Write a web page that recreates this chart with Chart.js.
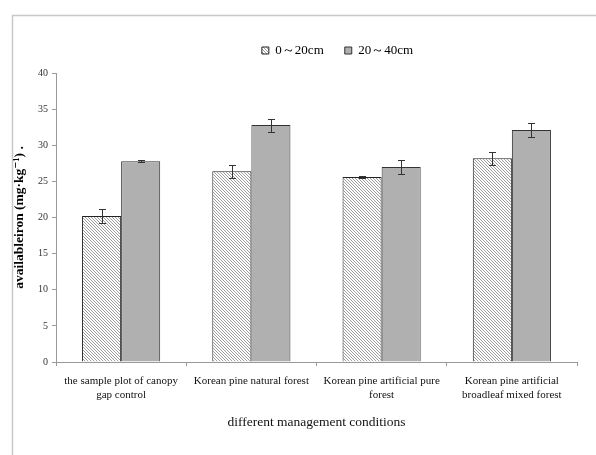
<!DOCTYPE html>
<html>
<head>
<meta charset="utf-8">
<script src="https://cdn.jsdelivr.net/npm/chart.js@4/dist/chart.umd.min.js"></script>
<style>
  html, body { margin: 0; padding: 0; background: #fff; }
  canvas { display: block; }
</style>
</head>
<body>
<canvas id="chart" width="596" height="455"></canvas>
<script>
// Available iron by management condition and soil depth
const categories = [
  ['the sample plot of canopy', 'gap control'],
  'Korean pine natural forest',
  ['Korean pine artificial pure', 'forest'],
  ['Korean pine artificial', 'broadleaf mixed forest']
];
const seriesNames = ['0～20cm', '20～40cm'];
const shallowValues = [20.2, 26.4, 25.6, 28.2];
const shallowErrors = [1.0, 0.9, 0.1, 0.9];
const deepValues = [27.8, 32.8, 27.0, 32.1];
const deepErrors = [0.1, 0.9, 1.0, 1.0];
const yTicks = [0, 5, 10, 15, 20, 25, 30, 35, 40];

const canvas = document.getElementById('chart');
const ctx = canvas.getContext('2d');

// Fine diagonal hatch fill for the 0-20cm bars
function makeHatch() {
  const tile = document.createElement('canvas');
  tile.width = 3; tile.height = 3;
  const g = tile.getContext('2d');
  g.fillStyle = '#ffffff';
  g.fillRect(0, 0, 3, 3);
  g.fillStyle = '#9c9c9c';
  for (let i = 0; i < 3; i++) g.fillRect(i, i, 1, 1);
  return ctx.createPattern(tile, 'repeat');
}
const hatch = makeHatch();

const serif = '"Liberation Serif", "Times New Roman", "DejaVu Serif", serif';

// Outer frame lines (top and left)
const framePlugin = {
  id: 'frame',
  beforeDraw(chart) {
    const c = chart.ctx;
    c.save();
    c.fillStyle = '#ffffff';
    c.fillRect(0, 0, chart.width, chart.height);
    c.strokeStyle = '#c8c8c8';
    c.lineWidth = 1.5;
    c.beginPath();
    c.moveTo(12.5, chart.height);
    c.lineTo(12.5, 15.5);
    c.lineTo(chart.width, 15.5);
    c.stroke();
    c.restore();
  }
};

// Legend sizing and horizontal placement
const legendPlacement = {
  id: 'legendPlacement',
  beforeLayout(chart) {
    const lg = chart.legend;
    if (lg && !lg._fitWrapped) {
      const fit = lg.fit;
      lg.fit = function () {
        fit.call(this);
        this.height = 50;
      };
      lg._fitWrapped = true;
    }
  },
  afterLayout(chart) {
    const lg = chart.legend;
    if (lg) {
      lg.left += 49;
      lg.right += 49;
    }
  }
};

// Standard-error bars on top of each bar
const errorBars = {
  id: 'errorBars',
  afterDatasetsDraw(chart) {
    const c = chart.ctx;
    const y = chart.scales.y;
    const errs = [shallowErrors, deepErrors];
    c.save();
    c.strokeStyle = '#333333';
    c.lineWidth = 1;
    chart.data.datasets.forEach((ds, i) => {
      const meta = chart.getDatasetMeta(i);
      meta.data.forEach((bar, j) => {
        const v = ds.data[j];
        const e = errs[i][j];
        const x = Math.round(bar.x) + 0.5;
        const top = Math.round(y.getPixelForValue(v + e)) + 0.5;
        const bot = Math.round(y.getPixelForValue(v - e)) + 0.5;
        c.beginPath();
        c.moveTo(x, top); c.lineTo(x, bot);
        c.moveTo(x - 3.5, top); c.lineTo(x + 3.5, top);
        c.moveTo(x - 3.5, bot); c.lineTo(x + 3.5, bot);
        c.stroke();
      });
    });
    c.restore();
  }
};

new Chart(ctx, {
  type: 'bar',
  data: {
    labels: categories,
    datasets: [
      {
        label: seriesNames[0],
        data: shallowValues,
        backgroundColor: hatch,
        borderColor: '#222222',
        borderWidth: 1,
        categoryPercentage: 0.6,
        barPercentage: 1.0
      },
      {
        label: seriesNames[1],
        data: deepValues,
        backgroundColor: '#b0b0b0',
        borderColor: '#333333',
        borderWidth: 1,
        categoryPercentage: 0.6,
        barPercentage: 1.0
      }
    ]
  },
  options: {
    responsive: false,
    animation: false,
    devicePixelRatio: 1,
    layout: { padding: { top: 23, left: 0, right: 19, bottom: 0 } },
    plugins: {
      legend: {
        display: true,
        position: 'top',
        labels: {
          boxWidth: 7,
          boxHeight: 7,
          padding: 21,
          color: '#000000',
          font: { family: serif, size: 13 }
        }
      },
      tooltip: { enabled: false },
      title: { display: false }
    },
    scales: {
      x: {
        offset: true,
        afterFit(scale) { scale.height = 93; },
        grid: {
          offset: true,
          drawOnChartArea: false,
          drawTicks: true,
          tickLength: 4,
          color: '#999999'
        },
        border: { display: true, color: '#999999', width: 1 },
        ticks: {
          color: '#111111',
          padding: 8,
          maxRotation: 0,
          autoSkip: false,
          font: { family: serif, size: 11, lineHeight: 1.25 }
        },
        title: {
          display: true,
          text: 'different management conditions',
          color: '#111111',
          padding: { top: 0, bottom: 24 },
          font: { family: serif, size: 13.5 }
        }
      },
      y: {
        min: 0,
        max: 40,
        afterFit(scale) { scale.width = 56; },
        afterBuildTicks(scale) { scale.ticks = yTicks.map(v => ({ value: v })); },
        grid: {
          drawOnChartArea: false,
          drawTicks: true,
          tickLength: 4,
          color: '#999999'
        },
        border: { display: true, color: '#999999', width: 1 },
        ticks: {
          color: '#333333',
          padding: 4,
          font: { family: serif, size: 10 }
        },
        title: {
          display: true,
          text: 'availableiron (mg·kg⁻¹) .',
          color: '#000000',
          padding: { top: 11, bottom: 0 },
          font: { family: serif, size: 13.5, weight: 'bold' }
        }
      }
    }
  },
  plugins: [framePlugin, legendPlacement, errorBars]
});
</script>
</body>
</html>
